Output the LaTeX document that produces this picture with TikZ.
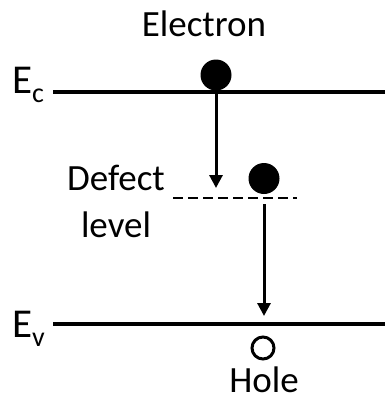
\documentclass[tikz,border=0pt]{standalone}
\usepackage{fontspec}
\setmainfont{Carlito}
\usetikzlibrary{arrows.meta}
\begin{document}
\begin{tikzpicture}[x=1pt,y=-1pt,
  lbl/.style={inner sep=0pt,font=\fontsize{37}{40}\selectfont},
  band/.style={line width=3.4pt},
  dot/.style={circle,fill=black,inner sep=0pt,minimum size=31pt},
  hop/.style={line width=3pt,-{Triangle[width=13pt,length=13pt]}},
  elabel/.style={inner sep=0pt,anchor=base west}]
\useasboundingbox (0,0) rectangle (385,402);
% bands
\coordinate (ecL) at (53,92);
\coordinate (ecR) at (385,92);
\coordinate (evL) at (53,324);
\coordinate (evR) at (385,324);
\draw[band] (ecL) -- (ecR);
\draw[band] (evL) -- (evR);
\node[elabel] (ec) at (12,93) {\fontsize{41}{41}\selectfont E\raisebox{-9pt}{\fontsize{28}{28}\selectfont c}};
\node[elabel] (ev) at (12,337) {\fontsize{41}{41}\selectfont E\raisebox{-9pt}{\fontsize{28}{28}\selectfont v}};
% defect level
\coordinate (dL) at (173,198);
\coordinate (dR) at (297,198);
\draw[line width=2.4pt,dash pattern=on 9.5pt off 5.5pt] (dL) -- (dR);
% labels
\node[lbl] (electron) at (204,24) {Electron};
\node[lbl] (defect) at (116,178) {Defect};
\node[lbl] (level) at (116,225) {level};
\node[lbl] (hole) at (264,380) {Hole};
% particles
\node[dot] (e1) at (216,75) {};
\node[dot] (e2) at (264,178.5) {};
\node[circle,draw,line width=3pt,inner sep=0pt,minimum size=22pt] (h) at (263,348) {};
% transitions
\coordinate (a1s) at (216,92);
\coordinate (a1e) at (216,188);
\coordinate (a2s) at (264,204);
\coordinate (a2e) at (264,316);
\draw[hop] (a1s) -- (a1e);
\draw[hop] (a2s) -- (a2e);
\end{tikzpicture}
\end{document}
